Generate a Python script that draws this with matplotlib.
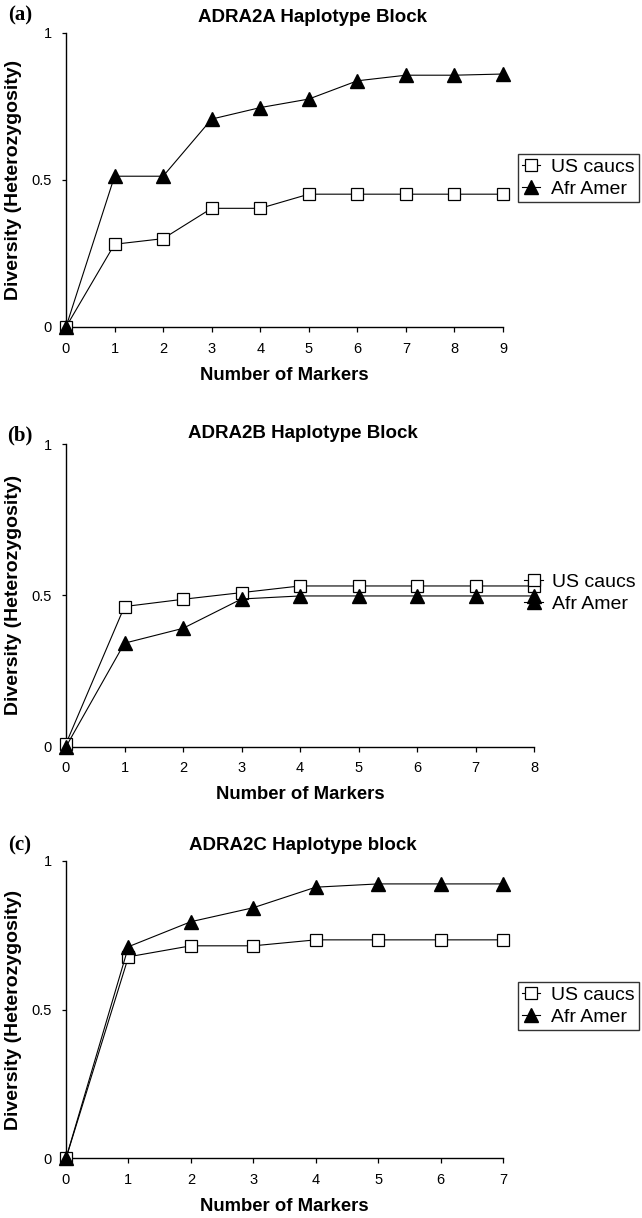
import matplotlib
matplotlib.use('Agg')
import matplotlib.pyplot as plt

plt.rcParams['font.family'] = ['Liberation Sans', 'DejaVu Sans']

# ------------------------------------------------------------
# Data
# ------------------------------------------------------------
series_names = ['US caucs', 'Afr Amer']
panel_tags = ['(a)', '(b)', '(c)']
panel_titles = ['ADRA2A Haplotype Block', 'ADRA2B Haplotype Block', 'ADRA2C Haplotype block']

markers_a = [0, 1, 2, 3, 4, 5, 6, 7, 8, 9]
us_caucs_a = [0.0, 0.281, 0.300, 0.403, 0.403, 0.451, 0.451, 0.451, 0.451, 0.451]
afr_amer_a = [0.0, 0.512, 0.512, 0.706, 0.745, 0.774, 0.836, 0.855, 0.855, 0.859]

markers_b = [0, 1, 2, 3, 4, 5, 6, 7, 8]
us_caucs_b = [0.01, 0.463, 0.487, 0.509, 0.531, 0.531, 0.531, 0.531, 0.531]
afr_amer_b = [0.0, 0.342, 0.391, 0.488, 0.498, 0.498, 0.498, 0.498, 0.498]

markers_c = [0, 1, 2, 3, 4, 5, 6, 7]
us_caucs_c = [0.0, 0.677, 0.714, 0.714, 0.734, 0.734, 0.734, 0.734]
afr_amer_c = [0.0, 0.711, 0.795, 0.842, 0.911, 0.922, 0.922, 0.922]

y_ticks = [0, 0.5, 1]
y_tick_labels = ['0', '0.5', '1']

W, H = 642, 1218
fig = plt.figure(figsize=(W / 100, H / 100), dpi=100)


def fx(px):
    return px / W


def fy(py):
    return 1 - py / H


# axes boxes in pixels: left, right (last x), top (y=1), bottom (y=0)
boxes = [(66, 503, 32.5, 327), (66, 534, 444, 746.7), (66, 503, 860.7, 1158.3)]
title_pos = [(313, 17), (303, 433), (303, 845)]
tag_pos = [(20, 15), (20, 435), (20, 845)]
data = [(markers_a, us_caucs_a, afr_amer_a),
        (markers_b, us_caucs_b, afr_amer_b),
        (markers_c, us_caucs_c, afr_amer_c)]

for i, (x, us, afr) in enumerate(data):
    l, r, t, b = boxes[i]
    ax = fig.add_axes([fx(l), fy(b), (r - l) / W, (b - t) / H])

    ax.plot(x, us, color='black', lw=0.8, marker='s', ms=8.5, mfc='white',
            mec='black', mew=0.9, clip_on=False, zorder=3, label=series_names[0])
    ax.plot(x, afr, color='black', lw=0.8, marker='^', ms=9.5, mfc='black',
            mec='black', clip_on=False, zorder=3, label=series_names[1])

    ax.set_xlim(x[0], x[-1])
    ax.set_ylim(0, 1)
    ax.set_xticks(x)
    ax.set_yticks(y_ticks)
    ax.set_yticklabels(y_tick_labels)
    for s in ['top', 'right']:
        ax.spines[s].set_visible(False)
    for s in ['left', 'bottom']:
        ax.spines[s].set_linewidth(1.0)
    ax.tick_params(axis='x', direction='out', length=3.5, width=0.9, pad=7, labelsize=10.5)
    ax.tick_params(axis='y', direction='out', length=3, width=0.9, pad=7, labelsize=10.5)
    ax.patch.set_alpha(0)

    # titles, panel tags and axis labels
    fig.text(fx(title_pos[i][0]), fy(title_pos[i][1]), panel_titles[i],
             ha='center', va='center', fontsize=13.5, fontweight='bold')
    fig.text(fx(tag_pos[i][0]), fy(tag_pos[i][1]), panel_tags[i],
             ha='center', va='center', fontsize=15, fontweight='bold',
             family=['Liberation Serif', 'DejaVu Serif'])
    fig.text(fx(14), fy((t + b) / 2), 'Diversity (Heterozygosity)', rotation=90,
             ha='center', va='center', fontsize=14, fontweight='bold')
    fig.text(fx((l + r) / 2), fy(b + 48), 'Number of Markers',
             ha='center', va='center', fontsize=13.3, fontweight='bold')

    # legends
    if i == 1:
        ax.legend(loc='center left', bbox_to_anchor=(fx(524), fy(593)),
                  bbox_transform=fig.transFigure, frameon=False, fontsize=14,
                  handlelength=1.0, handletextpad=0.45, borderpad=0,
                  borderaxespad=0, labelspacing=0.2)
    else:
        top = 154 if i == 0 else 982
        leg = ax.legend(loc='upper left', bbox_to_anchor=(fx(518), fy(top)),
                        bbox_transform=fig.transFigure, frameon=True, fancybox=False,
                        fontsize=14, handlelength=0.95, handletextpad=0.55,
                        borderpad=0.2, borderaxespad=0, labelspacing=0.25)
        leg.get_frame().set_edgecolor('black')
        leg.get_frame().set_linewidth(1.0)

fig.savefig('out.png', dpi=100)
